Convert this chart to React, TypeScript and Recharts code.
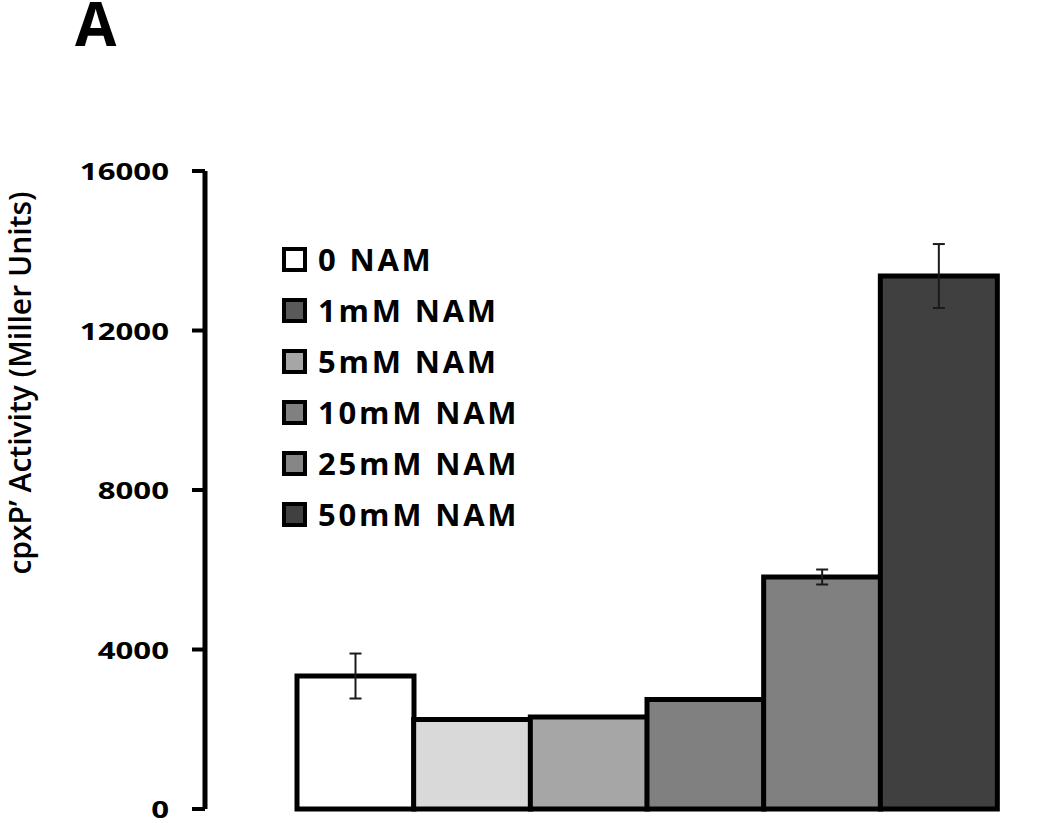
import React from 'react';
import { BarChart, Bar, XAxis, YAxis, Cell, ErrorBar, Legend } from 'recharts';

// treatment groups, in bar order
const categories = ['0 NAM', '1mM NAM', '5mM NAM', '10mM NAM', '25mM NAM', '50mM NAM'];
// cpxP' activity (Miller units) and error
const activity = [3335, 2245, 2307, 2746, 5818, 13366];
const errors: (number | null)[] = [564, null, null, null, 188, 802];
const barColors = ['#ffffff', '#d9d9d9', '#a6a6a6', '#808080', '#808080', '#404040'];
const legendColors = ['#ffffff', '#595959', '#a6a6a6', '#808080', '#868686', '#404040'];
const yTicks = [0, 4000, 8000, 12000, 16000];

const data = categories.map((name, i) => ({ name, value: activity[i], err: errors[i] }));

const YTick = (props: any) => {
  const { x, y, payload } = props;
  return (
    <text
      transform={`translate(${x},${y}) scale(1.3,1)`}
      textAnchor="end"
      dominantBaseline="central"
      fontFamily="Open Sans"
      fontWeight="bold"
      fontSize={24}
      fill="#000"
    >
      {payload.value}
    </text>
  );
};

const YLabel = () => (
  <text
    x={31}
    y={383}
    transform="rotate(-90, 31, 383)"
    textAnchor="middle"
    fontFamily="Open Sans"
    fontWeight={600}
    fontSize={30}
    fill="#000"
  >
    cpxP’ Activity (Miller Units)
  </text>
);

const LegendBox = () => (
  <div style={{ fontFamily: '"Open Sans"', fontWeight: 700, fontSize: 31, letterSpacing: 2.8, color: '#000' }}>
    {categories.map((c, i) => (
      <div key={c} style={{ display: 'flex', alignItems: 'center', height: 51 }}>
        <span
          style={{
            display: 'inline-block',
            width: 25,
            height: 25,
            boxSizing: 'border-box',
            border: '4px solid #000',
            background: legendColors[i],
            marginRight: 11,
          }}
        />
        <span style={{ lineHeight: '51px', whiteSpace: 'nowrap' }}>{c}</span>
      </div>
    ))}
  </div>
);

export default function App() {
  return (
    <div style={{ position: 'absolute', left: 0, top: 0, width: 1050, height: 823, background: '#fff' }}>
      <svg style={{ position: 'absolute', left: 0, top: 0 }} width={200} height={80}>
        <text x={75} y={46} fontFamily="Open Sans" fontWeight="bold" fontSize={60} fill="#000">
          A
        </text>
      </svg>
      <BarChart
        width={1050}
        height={823}
        data={data}
        margin={{ top: 171, right: 2, bottom: 14, left: 0 }}
        barCategoryGap={0}
        barGap={0}
      >
        <XAxis
          dataKey="name"
          height={0}
          tick={false}
          tickLine={false}
          axisLine={{ stroke: '#000', strokeWidth: 5 }}
          padding={{ left: 92, right: 51 }}
        />
        <YAxis
          width={205}
          domain={[0, 16000]}
          ticks={yTicks}
          tick={<YTick />}
          tickSize={13}
          tickMargin={23}
          axisLine={{ stroke: '#000', strokeWidth: 5 }}
          tickLine={{ stroke: '#000', strokeWidth: 4 }}
          label={{ content: () => <YLabel /> }}
        />
        <Legend
          layout="vertical"
          align="center"
          verticalAlign="middle"
          content={() => <LegendBox />}
          wrapperStyle={{ left: 282, top: 234, width: 'auto' }}
        />
        <Bar dataKey="value" stroke="#000" strokeWidth={5} isAnimationActive={false}>
          {data.map((d, i) => (
            <Cell key={d.name} fill={barColors[i]} />
          ))}
          <ErrorBar dataKey="err" width={6} stroke="#1a1a1a" strokeWidth={2} isAnimationActive={false} />
        </Bar>
      </BarChart>
    </div>
  );
}
